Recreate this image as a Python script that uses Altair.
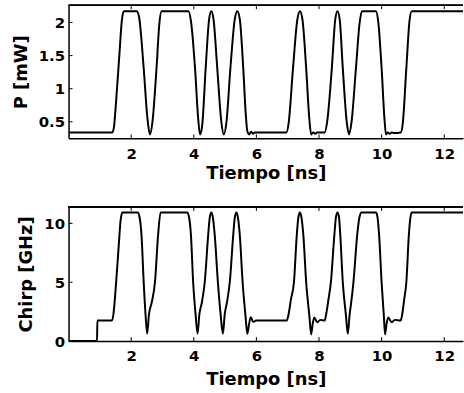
import altair as alt
import pandas as pd

# Optical power of the modulated signal
t_power = [0, 1.40, 1.45, 1.52, 1.63, 1.70, 1.76, 2.18, 2.26, 2.40, 2.52, 2.60, 2.68, 2.81, 2.90, 2.97,
           3.83, 3.91, 4.04, 4.14, 4.20, 4.27, 4.38, 4.49, 4.56, 4.63, 4.75, 4.88, 4.96, 5.04, 5.17, 5.31,
           5.39, 5.47, 5.58, 5.66, 5.71, 5.77, 5.83, 5.89, 5.95, 6.96, 7.03, 7.17, 7.31, 7.39, 7.47, 7.59,
           7.69, 7.75, 7.82, 7.88, 7.94, 8.00, 8.18, 8.26, 8.41, 8.52, 8.59, 8.66, 8.76, 8.89, 8.96, 9.04,
           9.18, 9.30, 9.37, 9.82, 9.89, 10.00, 10.09, 10.14, 10.20, 10.26, 10.32, 10.38, 10.61, 10.67,
           10.79, 10.89, 10.96, 12.6]
power_mw = [0.34, 0.34, 0.42, 0.82, 1.56, 2.02, 2.17, 2.17, 2.06, 1.31, 0.55, 0.31, 0.50, 1.31, 1.98, 2.17,
            2.17, 2.02, 1.31, 0.55, 0.31, 0.45, 1.31, 2.05, 2.17, 2.05, 1.31, 0.50, 0.31, 0.48, 1.31, 2.05,
            2.17, 2.05, 1.31, 0.62, 0.36, 0.31, 0.35, 0.32, 0.34, 0.34, 0.48, 1.31, 2.05, 2.17, 2.05, 1.31,
            0.55, 0.31, 0.34, 0.32, 0.34, 0.34, 0.34, 0.50, 1.31, 2.05, 2.17, 2.05, 1.31, 0.48, 0.31, 0.50,
            1.31, 2.00, 2.17, 2.17, 2.02, 1.31, 0.55, 0.31, 0.34, 0.32, 0.34, 0.33, 0.34, 0.45,
            1.31, 2.02, 2.17, 2.17]

# Frequency chirp of the same signal
t_chirp = [0, 0.91, 0.92, 1.39, 1.43, 1.52, 1.60, 1.66, 1.72, 2.21, 2.27, 2.33, 2.40, 2.46, 2.51, 2.57,
           2.65, 2.76, 2.86, 2.94, 3.79, 3.85, 3.91, 3.98, 4.06, 4.12, 4.18, 4.26, 4.35, 4.46, 4.51, 4.56,
           4.61, 4.67, 4.77, 4.86, 4.93, 4.99, 5.06, 5.15, 5.26, 5.31, 5.36, 5.41, 5.47, 5.56, 5.65, 5.71,
           5.77, 5.82, 5.90, 5.99, 6.97, 7.03, 7.10, 7.20, 7.29, 7.34, 7.39, 7.44, 7.50, 7.59, 7.69, 7.75,
           7.80, 7.85, 7.94, 8.04, 8.18, 8.23, 8.30, 8.38, 8.49, 8.54, 8.59, 8.64, 8.68, 8.76, 8.86, 8.92,
           8.98, 9.03, 9.10, 9.22, 9.29, 9.36, 9.82, 9.87, 9.92, 10.00, 10.07, 10.11, 10.16, 10.21, 10.32,
           10.42, 10.61, 10.66, 10.72, 10.79, 10.87, 10.92, 10.96, 12.6]
chirp_ghz = [0, 0, 1.75, 1.75, 2.2, 5.0, 8.0, 10.2, 10.93, 10.93, 10.5, 9.0, 5.0, 2.2, 0.62, 2.3,
             3.2, 5.0, 9.0, 10.93, 10.93, 10.5, 9.0, 5.0, 2.2, 0.62, 2.3, 3.3, 5.0, 9.0, 10.5, 10.93,
             10.5, 9.0, 5.0, 2.2, 0.62, 2.3, 3.3, 5.0, 9.0, 10.5, 10.93, 10.5, 9.0, 5.0, 2.2, 0.62,
             1.5, 2.02, 1.63, 1.75, 1.75, 2.3, 3.5, 5.0, 9.0, 10.5, 10.93, 10.5, 9.0, 5.0, 2.2, 0.57,
             1.5, 2.0, 1.6, 1.8, 1.75, 2.3, 3.5, 5.0, 9.0, 10.5, 10.93, 10.5, 9.0, 5.0, 2.2, 0.62,
             2.3, 3.3, 5.0, 9.0, 10.5, 10.93, 10.93, 10.5, 9.0, 5.0, 2.2, 0.57, 1.5, 2.0, 1.6,
             1.8, 1.75, 2.3, 3.5, 5.0, 9.0, 10.5, 10.93, 10.93]

x_ticks = [2, 4, 6, 8, 10, 12]
power_ticks = [0.5, 1, 1.5, 2]
chirp_ticks = [0, 5, 10]

X_DOMAIN = [0, 12.6]
W = 397
FONT = "DejaVu Sans"
TICK = 4


def panel(times, values, ytitle, ydomain, yticks, height, label_pad, title_pad):
    df = pd.DataFrame({"t": times, "v": values})
    xs = alt.Scale(domain=X_DOMAIN, nice=False, zero=False)
    ys = alt.Scale(domain=ydomain, nice=False, zero=False)
    x_axis = alt.Axis(values=x_ticks, title="Tiempo [ns]", ticks=False, grid=False, format="~r",
                      labelPadding=label_pad, titlePadding=title_pad,
                      domainColor="black", domainWidth=1.5,
                      labelFont=FONT, labelFontSize=15, labelFontWeight="bold", labelColor="black",
                      titleFont=FONT, titleFontSize=18, titleFontWeight="bold", titleColor="black")
    y_axis = alt.Axis(values=yticks, title=ytitle, ticks=False, grid=False, format="~r",
                      labelPadding=4, titlePadding=8,
                      domainColor="black", domainWidth=1.5,
                      labelFont=FONT, labelFontSize=15, labelFontWeight="bold", labelColor="black",
                      titleFont=FONT, titleFontSize=18, titleFontWeight="bold", titleColor="black")
    line = alt.Chart(df).mark_line(color="black", strokeWidth=2, interpolate="monotone", clip=True).encode(
        x=alt.X("t:Q", scale=xs, axis=x_axis),
        y=alt.Y("v:Q", scale=ys, axis=y_axis),
    )
    # inward tick marks share the field names of the line so the axes merge cleanly
    xt = pd.DataFrame({"t": x_ticks})
    yt = pd.DataFrame({"v": yticks})
    xtick_bottom = alt.Chart(xt).mark_rule(color="black", strokeWidth=1).encode(
        x=alt.X("t:Q", scale=xs),
        y=alt.value(height), y2=alt.value(height - TICK))
    xtick_top = alt.Chart(xt).mark_rule(color="black", strokeWidth=1).encode(
        x=alt.X("t:Q", scale=xs),
        y=alt.value(0), y2=alt.value(TICK))
    ytick_left = alt.Chart(yt).mark_rule(color="black", strokeWidth=1).encode(
        y=alt.Y("v:Q", scale=ys),
        x=alt.value(0), x2=alt.value(TICK))
    top_border = alt.Chart(xt).mark_rule(color="black", strokeWidth=1.2).encode(
        x=alt.value(0), x2=alt.value(W), y=alt.value(0))
    return alt.layer(line, xtick_bottom, xtick_top, ytick_left, top_border).properties(
        width=W, height=height)


top = panel(t_power, power_mw, "P [mW]", [0.25, 2.26], power_ticks, 134, 8, 3)
bottom = panel(t_chirp, chirp_ghz, "Chirp [GHz]", [0, 11.4], chirp_ticks, 135, 8, 7)

chart = alt.vconcat(top, bottom, spacing=24).properties(
    padding={"left": 12, "top": 3, "right": 0, "bottom": 0},
    background="white",
).configure_view(stroke=None)

chart.save("out.html", embed_options={"renderer": "svg", "actions": False})
